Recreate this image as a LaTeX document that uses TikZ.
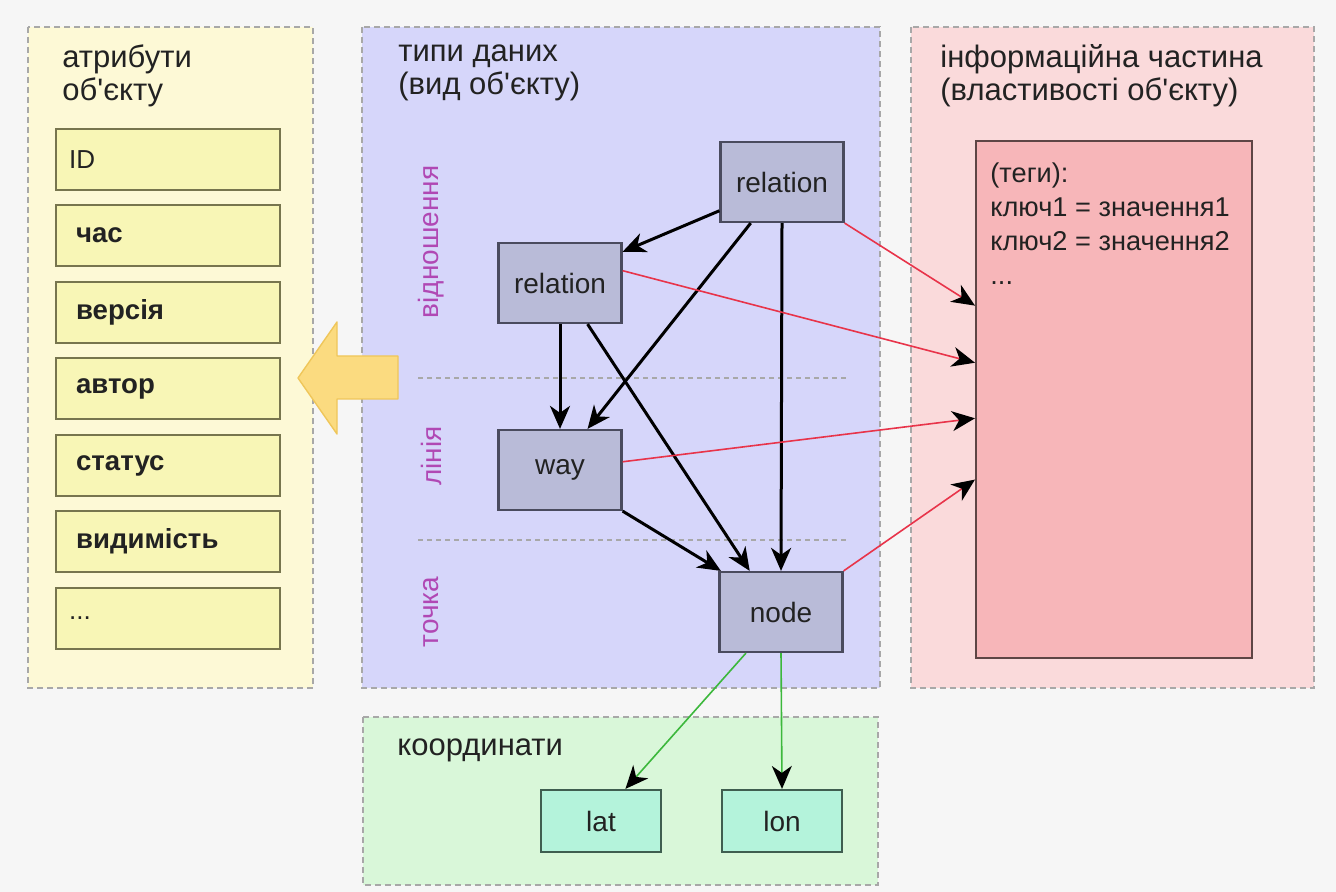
\documentclass[tikz,border=0pt]{standalone}
\usepackage{fontspec}
\setmainfont{Liberation Sans}[Ligatures=TeXOff]
\usetikzlibrary{arrows.meta,calc}
\definecolor{bg}{HTML}{F6F6F6}
\definecolor{ypanel}{HTML}{FDF9D6}
\definecolor{bpanel}{HTML}{D6D6FA}
\definecolor{ppanel}{HTML}{FADADB}
\definecolor{gpanel}{HTML}{D9F7D9}
\definecolor{ybox}{HTML}{F8F6B6}
\definecolor{ybord}{HTML}{77754E}
\definecolor{nbox}{HTML}{B9BBD8}
\definecolor{nbord}{HTML}{4A4B5E}
\definecolor{tbox}{HTML}{F7B6B9}
\definecolor{tbord}{HTML}{5E4545}
\definecolor{cbox}{HTML}{B4F3DB}
\definecolor{cbord}{HTML}{3F5E50}
\definecolor{pbord}{HTML}{A8A8A8}
\definecolor{magl}{HTML}{B048B4}
\definecolor{arrowy}{HTML}{FBDB80}
\definecolor{arrowyb}{HTML}{EFC65A}
\definecolor{redl}{HTML}{E8344A}
\definecolor{greenl}{HTML}{3CB83C}
\definecolor{txt}{HTML}{222222}
\begin{document}
\begin{tikzpicture}[x=0.5pt,y=-0.5pt,
  panel/.style={fill=#1,draw=pbord,line width=0.8pt,dash pattern=on 3pt off 2pt},
  ptitle/.style={anchor=north west,align=left,font=\fontsize{15.5}{16.5}\selectfont,text=txt,inner sep=0pt},
  attrbox/.style={draw=ybord,fill=ybox,line width=1.1pt,minimum width=112pt,minimum height=30.5pt,anchor=north west,text width=92pt,align=left,font=\fontsize{13.8}{15}\selectfont\bfseries,text=txt,inner xsep=10pt},
  attrplain/.style={attrbox,font=\fontsize{13}{15}\selectfont,inner xsep=6.5pt,text width=99pt},
  typebox/.style={draw=nbord,fill=nbox,line width=1.1pt,minimum width=61.5pt,minimum height=40pt,font=\fontsize{14}{16}\selectfont,text=txt},
  coordbox/.style={draw=cbord,fill=cbox,line width=1.1pt,minimum width=60pt,minimum height=31pt,font=\fontsize{14}{16}\selectfont,text=txt},
  vlabel/.style={rotate=90,font=\fontsize{14}{16}\selectfont,text=magl},
  blk/.style={-{Stealth[length=11.5pt,width=10pt,inset=3.5pt]},line width=1.5pt,black},
  redarr/.style={-{Stealth[length=11.5pt,width=10pt,inset=3.5pt,black]},line width=0.8pt,redl},
  grnarr/.style={-{Stealth[length=11.5pt,width=10pt,inset=3.5pt,black]},line width=0.8pt,greenl},
  sep/.style={draw=pbord,line width=0.7pt,dash pattern=on 2.5pt off 2pt}
]
\fill[bg] (0,0) rectangle (1336,892);
\useasboundingbox (0,0) rectangle (1336,892);

% panels
\draw[panel=ypanel] (28,27) rectangle (313,688);
\draw[panel=bpanel] (362,27) rectangle (880,688);
\draw[panel=ppanel] (911,27) rectangle (1314,688);
\draw[panel=gpanel] (363,717) rectangle (878,885);

% titles
\node[ptitle] (t1) at (62,44) {атрибути\\об'єкту};
\node[ptitle] (t2) at (398,44) {типи даних\\(вид об'єкту)};
\node[ptitle] (t3) at (940,44) {інформаційна частина\\(властивості об'єкту)};
\node[ptitle] (t4) at (397,738) {координати};

% attribute boxes
\node[attrplain] (a1) at (55,128) {ID};
\node[attrbox] (a2) at (55,204) {час};
\node[attrbox] (a3) at (55,281) {версія};
\node[attrbox] (a4) at (55,357) {автор};
\node[attrbox] (a5) at (55,434) {статус};
\node[attrbox] (a6) at (55,510) {видимість};
\node[attrplain] (a7) at (55,587) {...};

% big yellow arrow
\draw[fill=arrowy,draw=arrowyb,line width=0.7pt,line join=round]
  (298,378) -- (337,322) -- (337,356) -- (398,356) -- (398,399) -- (337,399) -- (337,434) -- cycle;

% separators
\draw[sep] (418,378) -- (848,378);
\draw[sep] (418,540) -- (848,540);

% vertical labels
\node[vlabel] (v1) at (431,242) {відношення};
\node[vlabel] (v2) at (431,456) {лінія};
\node[vlabel] (v3) at (431,612) {точка};

% type nodes
\node[typebox] (r1) at (782,182) {relation};
\node[typebox] (r2) at (560,283) {relation};
\node[typebox] (w) at (560,470) {way};
\node[typebox] (n) at (781,612) {node};

% tags box
\node[draw=tbord,fill=tbox,line width=1.1pt,minimum width=138pt,minimum height=258.5pt,anchor=north west] (tags) at (975,140) {};
\node[anchor=north west,align=left,inner sep=0pt,font=\fontsize{13.6}{17}\selectfont,text=txt] (tt) at (990,162) {(теги):\\ключ1 = значення1\\ключ2 = значення2\\...};

% coordinate boxes
\node[coordbox] (lat) at (601,821) {lat};
\node[coordbox] (lon) at (782,821) {lon};

% black arrows
\draw[blk] ($(r1.south west)!0.15!(r1.north west)$) -- ($(r2.north east)!0.12!(r2.south east)$);
\draw[blk] ($(r1.south west)!0.25!(r1.south east)$) -- ($(w.north west)!0.72!(w.north east)$);
\draw[blk] (r1.south) -- (n.north);
\draw[blk] (r2.south) -- (w.north);
\draw[blk] ($(r2.south west)!0.72!(r2.south east)$) -- ($(n.north west)!0.25!(n.north east)$);
\draw[blk] (w.south east) -- ($(n.north west)!0.02!(n.north east)$);

% red arrows
\draw[redarr] (r1.south east) -- ($(tags.north west)!0.319!(tags.south west)$);
\draw[redarr] ($(r2.north east)!0.35!(r2.south east)$) -- ($(tags.north west)!0.429!(tags.south west)$);
\draw[redarr] ($(w.north east)!0.4!(w.south east)$) -- ($(tags.north west)!0.536!(tags.south west)$);
\draw[redarr] (n.north east) -- ($(tags.north west)!0.654!(tags.south west)$);

% green arrows
\draw[grnarr] ($(n.south west)!0.22!(n.south east)$) -- ($(lat.north west)!0.7!(lat.north east)$);
\draw[grnarr] (n.south) -- (lon.north);
\end{tikzpicture}
\end{document}
